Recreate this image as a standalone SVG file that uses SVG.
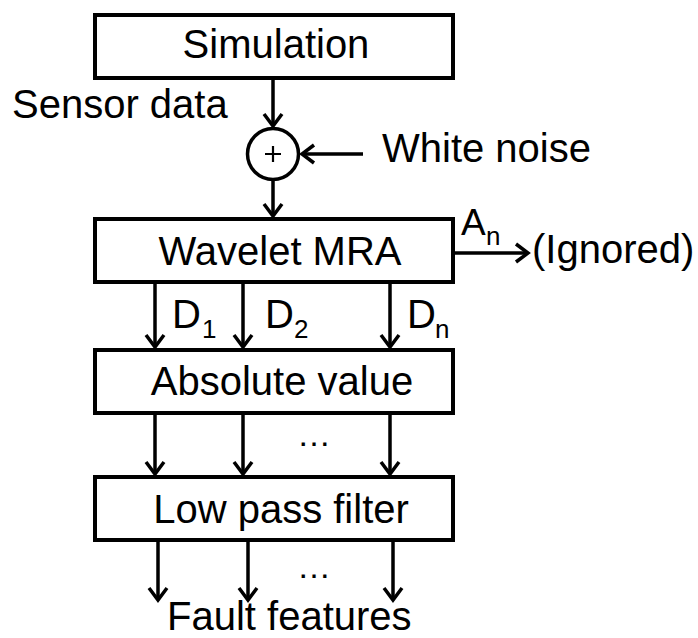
<svg xmlns="http://www.w3.org/2000/svg" width="698" height="638" viewBox="0 0 698 638">
  <defs>
    <style>
      .box { fill: #fff; stroke: #000; stroke-width: 4; }
      .lbl { font-family: "Liberation Sans", Arial, sans-serif; font-size: 40px; fill: #000; }
      .mid { text-anchor: middle; }
      .sub { font-family: "Liberation Sans", Arial, sans-serif; font-size: 26px; fill: #000; }
      .wire { fill: none; stroke: #000; stroke-width: 3.5; marker-end: url(#ah); }
    </style>
    <marker id="ah" markerUnits="userSpaceOnUse" markerWidth="30" markerHeight="30" viewBox="-15 -15 30 30" refX="0" refY="0" orient="auto">
      <path d="M-12,-9 L0,0 L-12,9" fill="none" stroke="#000" stroke-width="3.5" stroke-linejoin="miter"/>
    </marker>
  </defs>
  <rect width="698" height="638" fill="#fff"/>

  <!-- processing blocks -->
  <g id="simulation">
    <rect class="box" x="95" y="15" width="358" height="63"/>
    <text class="lbl mid" x="276" y="58">Simulation</text>
  </g>
  <g id="adder">
    <circle cx="273" cy="154" r="25.5" fill="#fff" stroke="#000" stroke-width="3.5"/>
    <path d="M265,154 H281 M273,146 V162" stroke="#000" stroke-width="2.2"/>
  </g>
  <g id="wavelet-mra">
    <rect class="box" x="95" y="219" width="358" height="63"/>
    <text class="lbl mid" x="280" y="265">Wavelet MRA</text>
  </g>
  <g id="absolute-value">
    <rect class="box" x="95" y="350" width="358" height="63"/>
    <text class="lbl mid" x="282" y="395">Absolute value</text>
  </g>
  <g id="low-pass-filter">
    <rect class="box" x="95" y="477" width="358" height="63"/>
    <text class="lbl mid" x="281" y="523">Low pass filter</text>
  </g>

  <!-- connectors -->
  <g id="connectors">
    <line class="wire" x1="273" y1="80" x2="273" y2="126"/>
    <line class="wire" x1="363" y1="154" x2="302" y2="154"/>
    <line class="wire" x1="273" y1="180" x2="273" y2="216"/>
    <line class="wire" x1="455" y1="253" x2="528" y2="253"/>
    <line class="wire" x1="155" y1="284" x2="155" y2="347"/>
    <line class="wire" x1="243" y1="284" x2="243" y2="347"/>
    <line class="wire" x1="390" y1="284" x2="390" y2="347"/>
    <line class="wire" x1="155" y1="415" x2="155" y2="474"/>
    <line class="wire" x1="243" y1="415" x2="243" y2="474"/>
    <line class="wire" x1="390" y1="415" x2="390" y2="474"/>
    <line class="wire" x1="158" y1="542" x2="158" y2="600"/>
    <line class="wire" x1="248" y1="542" x2="248" y2="600"/>
    <line class="wire" x1="393" y1="542" x2="393" y2="600"/>
  </g>

  <!-- signal labels -->
  <g id="labels">
    <text class="lbl" x="12" y="118">Sensor data</text>
    <text class="lbl" x="382" y="162">White noise</text>
    <text class="lbl" x="461" y="235" style="font-size:37px">A</text>
    <text class="sub" x="486" y="245">n</text>
    <text class="lbl" x="532" y="263">(Ignored)</text>
    <text class="lbl" x="172" y="328">D</text>
    <text class="sub" x="202" y="338">1</text>
    <text class="lbl" x="265" y="328">D</text>
    <text class="sub" x="294" y="338">2</text>
    <text class="lbl" x="407" y="328">D</text>
    <text class="sub" x="435" y="338">n</text>
    <text class="lbl mid" x="314" y="446" style="font-size:34px">…</text>
    <text class="lbl mid" x="314" y="578" style="font-size:34px">…</text>
    <text class="lbl" x="167" y="630">Fault features</text>
  </g>
</svg>
